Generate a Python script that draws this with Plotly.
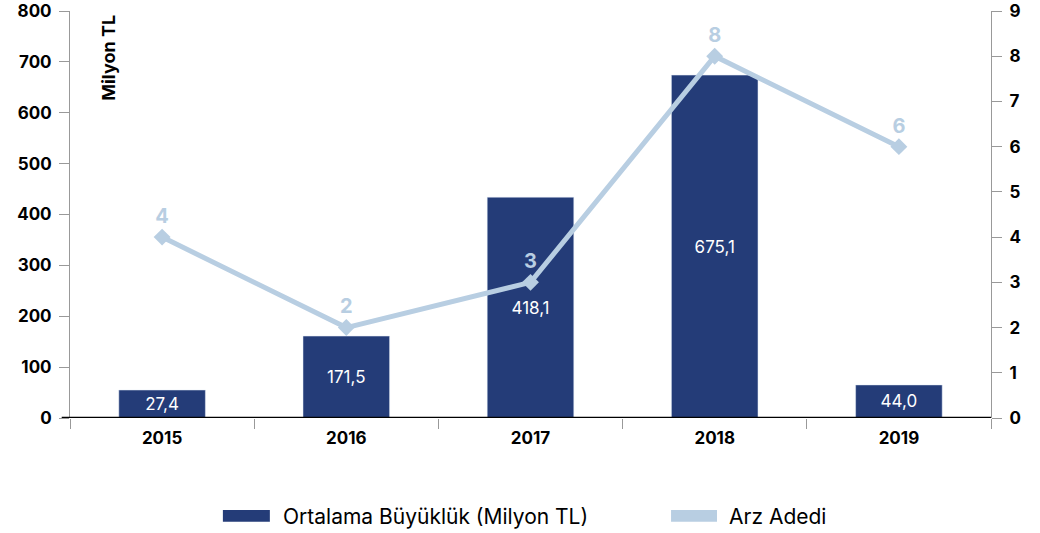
import plotly.graph_objects as go

years = ["2015", "2016", "2017", "2018", "2019"]
bar_values = [55, 161, 434, 674, 65]
bar_labels = ["27,4", "171,5", "418,1", "675,1", "44,0"]
arz_adedi = [4, 2, 3, 8, 6]
legend_names = ["Ortalama Büyüklük (Milyon TL)", "Arz Adedi"]

BAR = "#243c78"
LINE = "#b8cee2"
FONT = "Inter"
TICKFONT = dict(size=17, family=FONT, weight=700, color="black")

fig = go.Figure()
fig.add_trace(go.Bar(
    x=years, y=bar_values, name=legend_names[0],
    marker_color=BAR, width=0.47,
    text=bar_labels, textposition="inside", insidetextanchor="middle",
    textfont=dict(color="white", size=17, family=FONT),
    showlegend=False,
))
fig.add_trace(go.Scatter(
    x=years, y=arz_adedi, name=legend_names[1], yaxis="y2",
    mode="lines+markers+text",
    line=dict(color=LINE, width=5),
    marker=dict(symbol="diamond", size=13, color=LINE),
    text=[str(v) for v in arz_adedi], textposition="top center",
    textfont=dict(color=LINE, size=20, family=FONT, weight=700),
    cliponaxis=False, showlegend=False,
))

fig.add_annotation(
    text="Milyon TL", xref="paper", yref="paper",
    x=0.041, y=0.995, xanchor="center", yanchor="top",
    textangle=-90, showarrow=False,
    font=dict(size=18, color="black", family=FONT, weight=700),
)

# custom legend (rectangular swatches)
swatches = [(0.166, 0.217, BAR), (0.6526, 0.7025, LINE)]
text_x = [0.229, 0.7135]
for (x0, x1, col), tx, name in zip(swatches, text_x, legend_names):
    fig.add_shape(type="rect", xref="paper", yref="paper",
                  x0=x0, x1=x1, y0=-0.255, y1=-0.226,
                  fillcolor=col, line_width=0)
    fig.add_annotation(text=name, xref="paper", yref="paper",
                       x=tx, y=-0.241, xanchor="left", yanchor="middle",
                       showarrow=False,
                       font=dict(size=21, color="black", family=FONT))

# baseline extending slightly left of the axis
fig.add_shape(type="line", xref="paper", yref="y", x0=-0.009, x1=1.0,
              y0=0, y1=0, line=dict(color="black", width=2.5), layer="above")

fig.update_layout(
    width=1040, height=533,
    margin=dict(l=70, r=49, t=11, b=115),
    plot_bgcolor="white", paper_bgcolor="white",
    font=dict(family=FONT, color="black"),
    showlegend=False,
    xaxis=dict(
        type="category", showline=False,
        ticks="outside", tickson="boundaries", ticklen=10, tickcolor="#999999",
        tickfont=TICKFONT, showgrid=False, automargin=False,
        ticklabelstandoff=8,
    ),
    yaxis=dict(
        range=[0, 800], dtick=100, showline=True, linecolor="#999999", linewidth=1,
        ticks="outside", ticklen=10, tickcolor="#999999",
        tickfont=TICKFONT, automargin=False, ticklabeloverflow="allow",
        showgrid=False, zeroline=False, ticklabelstandoff=4,
    ),
    yaxis2=dict(
        range=[0, 9], dtick=1, overlaying="y", side="right",
        showline=True, linecolor="#999999", linewidth=1,
        ticks="outside", ticklen=10, tickcolor="#999999",
        tickfont=TICKFONT, automargin=False, ticklabeloverflow="allow",
        showgrid=False, zeroline=False, ticklabelstandoff=4,
    ),
)

fig.write_html("out.html", config={"displayModeBar": False},
               post_script="document.body.style.margin='0';")
